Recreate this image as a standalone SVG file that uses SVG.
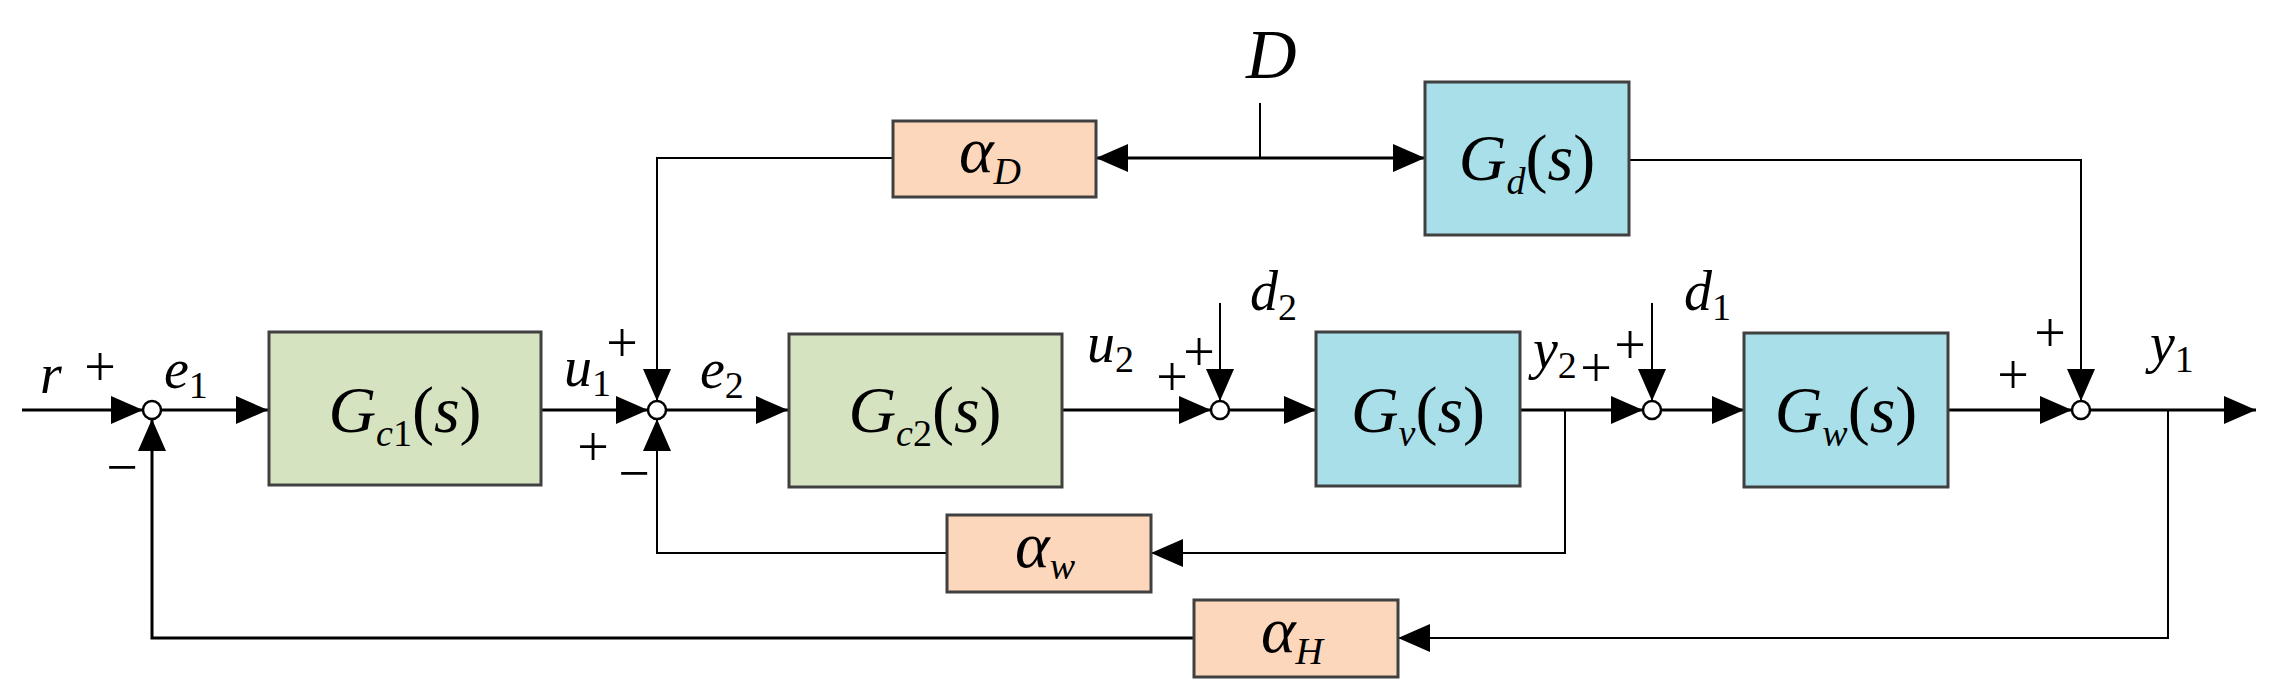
<svg xmlns="http://www.w3.org/2000/svg" width="2272" height="696" viewBox="0 0 2272 696">
<style>
.box{stroke:#404040;stroke-width:3}
.g{fill:#d5e3c0}.b{fill:#a8dfe9}.p{fill:#fdd7bb}
.ln{fill:none;stroke:#000;stroke-width:3}
.th{fill:none;stroke:#000;stroke-width:2}
.arr{marker-end:url(#ah)}
.sum{fill:#fff;stroke:#000;stroke-width:2.5}
text{font-family:"Liberation Serif","Times New Roman","DejaVu Serif",serif;fill:#000}
.v{font-style:italic}
.big{font-size:66px}
.lab{font-size:56px}
.sg{font-size:56px}
.sub{font-size:38px;font-style:normal}
.subi{font-size:38px;font-style:italic}
</style>
<defs>
<marker id="ah" markerUnits="userSpaceOnUse" markerWidth="32" markerHeight="28" viewBox="0 0 32 28" refX="32" refY="14" orient="auto">
<path d="M0,0 L32,14 L0,28 Z" fill="#000"/>
</marker>
</defs>
<g id="connectors">
<path class="ln arr" d="M22,410 H143"/>
<path class="ln arr" d="M161,410 H268"/>
<path class="ln arr" d="M540,410 H648"/>
<path class="ln arr" d="M666,410 H788"/>
<path class="ln arr" d="M1062,410 H1211"/>
<path class="ln arr" d="M1229,410 H1316"/>
<path class="ln arr" d="M1520,410 H1643"/>
<path class="ln arr" d="M1661,410 H1744"/>
<path class="ln arr" d="M1948,410 H2072"/>
<path class="ln arr" d="M2090,410 H2256"/>
<path class="th arr" d="M1220,303 V401"/>
<path class="th arr" d="M1652,303 V401"/>
<path class="th arr" d="M1629,160 H2081 V401"/>
<path class="th" d="M1260,103 V158"/>
<path class="ln arr" d="M1260,158 H1096"/>
<path class="ln arr" d="M1260,158 H1425"/>
<path class="th arr" d="M893,158 H657 V401"/>
<path class="th arr" d="M1565,410 V553 H1151"/>
<path class="th arr" d="M947,553 H657 V419"/>
<path class="th arr" d="M2168,410 V638 H1398"/>
<path class="ln arr" d="M1194,638 H152 V419"/>
</g>
<g id="sum1"><circle class="sum" cx="152" cy="410" r="9"/></g>
<g id="sum2"><circle class="sum" cx="657" cy="410" r="9"/></g>
<g id="sum3"><circle class="sum" cx="1220" cy="410" r="9"/></g>
<g id="sum4"><circle class="sum" cx="1652" cy="410" r="9"/></g>
<g id="sum5"><circle class="sum" cx="2081" cy="410" r="9"/></g>
<g id="Gc1"><rect class="box g" x="269" y="332" width="272" height="153"/>
<text class="big" x="405" y="432" text-anchor="middle"><tspan class="v">G</tspan><tspan class="sub" dy="14"><tspan class="v">c</tspan>1</tspan><tspan dy="-14">(</tspan><tspan class="v">s</tspan>)</text></g>
<g id="Gc2"><rect class="box g" x="789" y="334" width="273" height="153"/>
<text class="big" x="925" y="432" text-anchor="middle"><tspan class="v">G</tspan><tspan class="sub" dy="14"><tspan class="v">c</tspan>2</tspan><tspan dy="-14">(</tspan><tspan class="v">s</tspan>)</text></g>
<g id="Gv"><rect class="box b" x="1316" y="332" width="204" height="154"/>
<text class="big" x="1418" y="432" text-anchor="middle"><tspan class="v">G</tspan><tspan class="subi" dy="14">v</tspan><tspan dy="-14">(</tspan><tspan class="v">s</tspan>)</text></g>
<g id="Gw"><rect class="box b" x="1744" y="333" width="204" height="154"/>
<text class="big" x="1846" y="432" text-anchor="middle"><tspan class="v">G</tspan><tspan class="subi" dy="14">w</tspan><tspan dy="-14">(</tspan><tspan class="v">s</tspan>)</text></g>
<g id="Gd"><rect class="box b" x="1425" y="82" width="204" height="153"/>
<text class="big" x="1527" y="180" text-anchor="middle"><tspan class="v">G</tspan><tspan class="subi" dy="14">d</tspan><tspan dy="-14">(</tspan><tspan class="v">s</tspan>)</text></g>
<g id="alphaD"><rect class="box p" x="893" y="121" width="203" height="76"/>
<text class="big" x="990" y="172" text-anchor="middle"><tspan class="v">α</tspan><tspan class="subi" dy="12">D</tspan></text></g>
<g id="alphaW"><rect class="box p" x="947" y="515" width="204" height="77"/>
<text class="big" x="1045" y="567" text-anchor="middle"><tspan class="v">α</tspan><tspan class="subi" dy="12">w</tspan></text></g>
<g id="alphaH"><rect class="box p" x="1194" y="600" width="204" height="77"/>
<text class="big" x="1292" y="652" text-anchor="middle"><tspan class="v">α</tspan><tspan class="subi" dy="12">H</tspan></text></g>
<g id="labels">
<text class="lab v" x="40" y="393">r</text>
<text class="sg" x="100" y="386" text-anchor="middle">+</text>
<text class="lab v" x="164" y="388">e<tspan class="sub" dy="10">1</tspan></text>
<text class="sg" x="122" y="486" text-anchor="middle">−</text>
<text class="lab v" x="564" y="386">u<tspan class="sub" dy="10">1</tspan></text>
<text class="sg" x="622" y="362" text-anchor="middle">+</text>
<text class="lab v" x="700" y="388">e<tspan class="sub" dy="10">2</tspan></text>
<text class="sg" x="593" y="466" text-anchor="middle">+</text>
<text class="sg" x="634" y="492" text-anchor="middle">−</text>
<text class="lab v" x="1087" y="362">u<tspan class="sub" dy="10">2</tspan></text>
<text class="sg" x="1172" y="396" text-anchor="middle">+</text>
<text class="sg" x="1199" y="371" text-anchor="middle">+</text>
<text class="lab v" x="1250" y="310">d<tspan class="sub" dy="10">2</tspan></text>
<text class="lab v" x="1533" y="368">y<tspan class="sub" dy="10">2</tspan></text>
<text class="sg" x="1596" y="387" text-anchor="middle">+</text>
<text class="sg" x="1630" y="364" text-anchor="middle">+</text>
<text class="lab v" x="1684" y="310">d<tspan class="sub" dy="10">1</tspan></text>
<text class="sg" x="2013" y="394" text-anchor="middle">+</text>
<text class="sg" x="2050" y="352" text-anchor="middle">+</text>
<text class="lab v" x="2150" y="362">y<tspan class="sub" dy="10">1</tspan></text>
<text class="v" style="font-size:70px" x="1246" y="78">D</text>
</g>
</svg>
